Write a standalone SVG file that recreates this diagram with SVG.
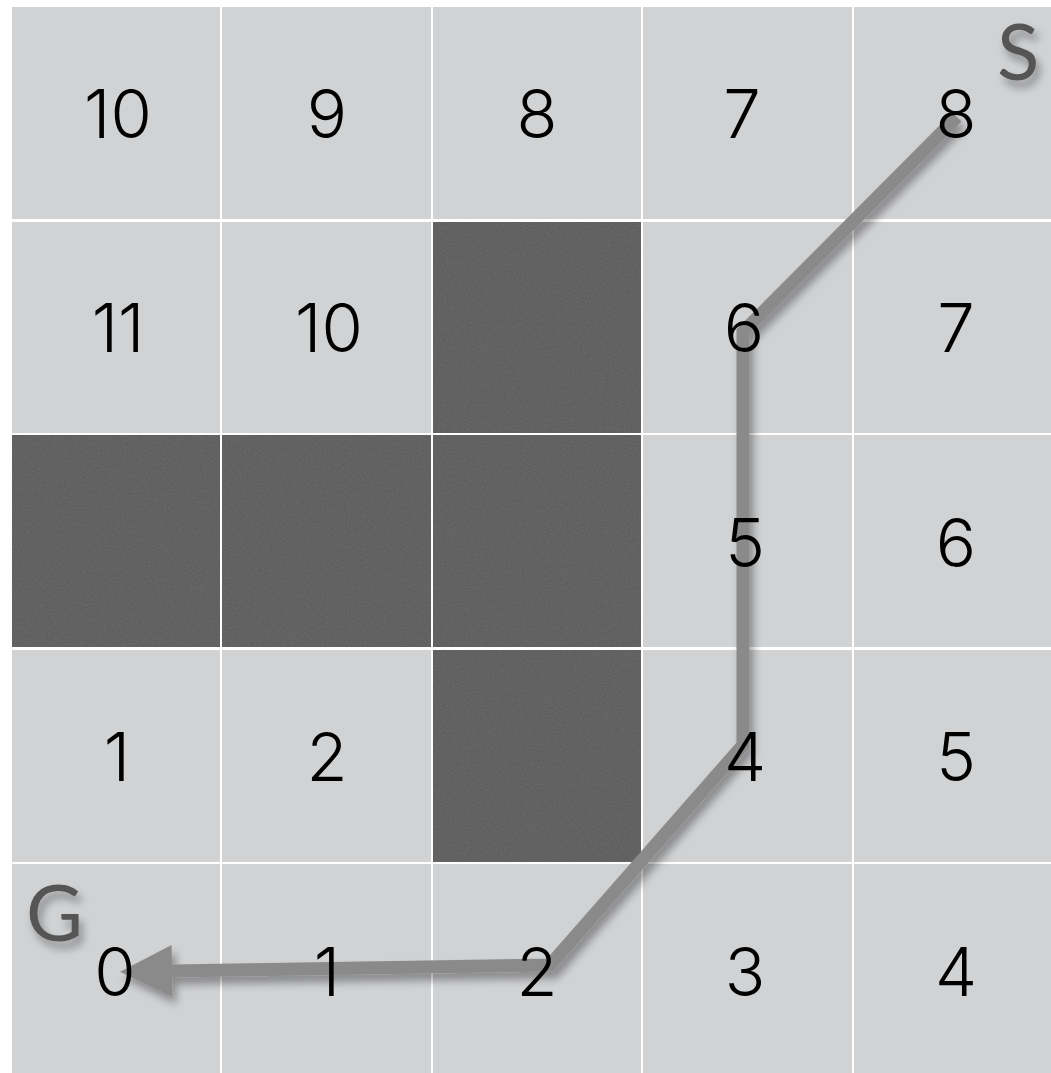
<svg xmlns="http://www.w3.org/2000/svg" width="1051" height="1073" viewBox="0 0 1051 1073">
<defs>
<style>
.cell{fill:#d1d2d4}
.wall{fill:#585858}
.num{font-family:Inter,"Liberation Sans",sans-serif;font-weight:300;font-size:67px;fill:#000;text-anchor:middle}
.big{font-family:Lato,"Open Sans","Liberation Sans",sans-serif;font-size:78px;fill:#555;filter:url(#shadow)}
.path{fill:none;stroke:#8a8a8a;stroke-width:13;stroke-linejoin:miter;filter:url(#shadow)}
</style>
<filter id="shadow" x="-20%" y="-20%" width="140%" height="140%">
<feDropShadow dx="4" dy="7" stdDeviation="4" flood-color="#000" flood-opacity="0.35"/>
</filter>
<filter id="grain" x="0" y="0" width="100%" height="100%">
<feTurbulence type="fractalNoise" baseFrequency="0.7" numOctaves="2" seed="3" result="n"/>
<feColorMatrix in="n" type="matrix" values="0 0 0 0 0.25  0 0 0 0 0.25  0 0 0 0 0.25  0 0 0 0.35 0" result="g"/>
<feComposite in="g" in2="SourceGraphic" operator="in" result="gc"/>
<feMerge><feMergeNode in="SourceGraphic"/><feMergeNode in="gc"/></feMerge>
</filter>
<marker id="arrow" viewBox="0 0 10 10" refX="0" refY="5" markerWidth="4.2" markerHeight="4" orient="auto" markerUnits="strokeWidth">
<path d="M0,0 L10,5 L0,10 Z" fill="#8a8a8a"/>
</marker>
</defs>
<rect width="1051" height="1073" fill="#fff"/>
<g id="cells">
<g id="c00"><rect class="cell" x="12" y="7" width="208" height="212"/></g>
<g id="c01"><rect class="cell" x="222" y="7" width="209" height="212"/></g>
<g id="c02"><rect class="cell" x="433" y="7" width="208" height="212"/></g>
<g id="c03"><rect class="cell" x="643" y="7" width="209" height="212"/></g>
<g id="c04"><rect class="cell" x="854" y="7" width="197" height="212"/></g>
<g id="c10"><rect class="cell" x="12" y="222" width="208" height="211"/></g>
<g id="c11"><rect class="cell" x="222" y="222" width="209" height="211"/></g>
<g id="c12"><rect class="wall" filter="url(#grain)" x="433" y="222" width="208" height="211"/></g>
<g id="c13"><rect class="cell" x="643" y="222" width="209" height="211"/></g>
<g id="c14"><rect class="cell" x="854" y="222" width="197" height="211"/></g>
<g id="c20"><rect class="wall" filter="url(#grain)" x="12" y="435" width="208" height="212"/></g>
<g id="c21"><rect class="wall" filter="url(#grain)" x="222" y="435" width="209" height="212"/></g>
<g id="c22"><rect class="wall" filter="url(#grain)" x="433" y="435" width="208" height="212"/></g>
<g id="c23"><rect class="cell" x="643" y="435" width="209" height="212"/></g>
<g id="c24"><rect class="cell" x="854" y="435" width="197" height="212"/></g>
<g id="c30"><rect class="cell" x="12" y="650" width="208" height="212"/></g>
<g id="c31"><rect class="cell" x="222" y="650" width="209" height="212"/></g>
<g id="c32"><rect class="wall" filter="url(#grain)" x="433" y="650" width="208" height="212"/></g>
<g id="c33"><rect class="cell" x="643" y="650" width="209" height="212"/></g>
<g id="c34"><rect class="cell" x="854" y="650" width="197" height="212"/></g>
<g id="c40"><rect class="cell" x="12" y="864" width="208" height="209"/></g>
<g id="c41"><rect class="cell" x="222" y="864" width="209" height="209"/></g>
<g id="c42"><rect class="cell" x="433" y="864" width="208" height="209"/></g>
<g id="c43"><rect class="cell" x="643" y="864" width="209" height="209"/></g>
<g id="c44"><rect class="cell" x="854" y="864" width="197" height="209"/></g>
</g>
<g id="connectors">
<polyline class="path" points="957,117 743,332 743,745 550,965 172,971" marker-end="url(#arrow)"/>
</g>
<g id="labels">
<text class="num" x="118" y="138">10</text>
<text class="num" x="327" y="138">9</text>
<text class="num" x="537" y="138">8</text>
<text class="num" x="742" y="138">7</text>
<text class="num" x="956" y="138">8</text>
<text class="num" x="118" y="352">11</text>
<text class="num" x="329" y="352">10</text>
<text class="num" x="744" y="352">6</text>
<text class="num" x="956" y="352">7</text>
<text class="num" x="745" y="567">5</text>
<text class="num" x="956" y="567">6</text>
<text class="num" x="117" y="781">1</text>
<text class="num" x="327" y="781">2</text>
<text class="num" x="745" y="781">4</text>
<text class="num" x="956" y="781">5</text>
<text class="num" x="115" y="996">0</text>
<text class="num" x="327" y="996">1</text>
<text class="num" x="537" y="996">2</text>
<text class="num" x="745" y="996">3</text>
<text class="num" x="956" y="996">4</text>
<text id="S" class="big" x="997" y="80">S</text>
<text id="G" class="big" x="26" y="941">G</text>
</g>
</svg>
